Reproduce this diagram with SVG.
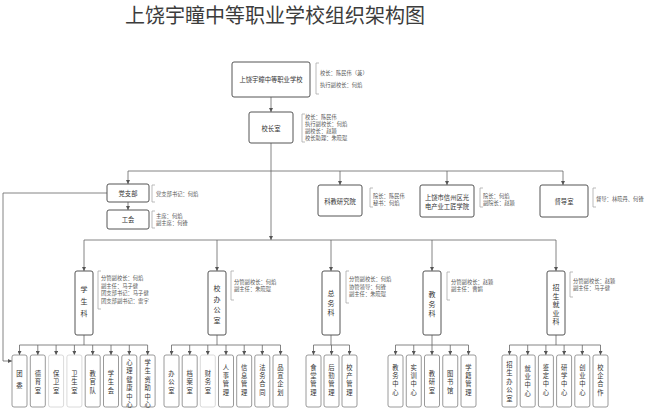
<svg xmlns="http://www.w3.org/2000/svg" width="645" height="409" viewBox="0 0 645 409">
<defs>
<marker id="arr" markerUnits="userSpaceOnUse" markerWidth="4" markerHeight="4" refX="4" refY="2" orient="auto">
<path d="M0,0 L4,2 L0,4 z" fill="#555"/>
</marker>
<style>
text{font-family:"Noto Sans CJK SC","Noto Sans",sans-serif;fill:#333;}
.title{font-size:20px;fill:#3c3c3c;}
.bx{fill:#fff;stroke:#555;stroke-width:1;}
.sb{fill:#fff;stroke:#808080;stroke-width:0.8;}
.lt{fill:#fff;stroke:#d0d0d0;stroke-width:0.8;}
.t{font-size:6.3px;text-anchor:middle;dominant-baseline:central;}
.v{font-size:7px;text-anchor:middle;dominant-baseline:central;}
.s{font-size:6.3px;text-anchor:middle;dominant-baseline:central;}
.a{font-size:5.3px;fill:#555;dominant-baseline:central;}
.br{fill:none;stroke:#aaa;stroke-width:0.8;}
.c{fill:none;stroke:#666;stroke-width:0.8;}
.ca{fill:none;stroke:#666;stroke-width:0.8;marker-end:url(#arr);}
</style>
</defs>
<rect width="645" height="409" fill="#fff"/>
<text class="title" x="125" y="23">上饶宇瞳中等职业学校组织架构图</text>

<g id="connectors">
<path class="ca" d="M271,97 V112"/>
<path class="ca" d="M271,143 V240"/>
<path class="c" d="M128,171 H563"/>
<path class="ca" d="M128,171 V184"/>
<path class="ca" d="M340,171 V185"/>
<path class="ca" d="M447,171 V185"/>
<path class="ca" d="M563,171 V185"/>
<path class="ca" d="M128,202 V210"/>
<path class="ca" d="M107,193 H3 V361 H12"/>
<path class="c" d="M84,240 H556"/>
<path class="ca" d="M84,240 V271"/>
<path class="ca" d="M217,240 V271"/>
<path class="ca" d="M331,240 V271"/>
<path class="ca" d="M432,240 V271"/>
<path class="ca" d="M556,240 V271"/>
<path class="c" d="M84,335 V345 M19.5,345 H147.6"/>
<path class="ca" d="M19.5,345 V355"/><path class="ca" d="M37.8,345 V355"/><path class="ca" d="M56.1,345 V355"/><path class="ca" d="M74.4,345 V355"/><path class="ca" d="M92.7,345 V355"/><path class="ca" d="M111,345 V355"/><path class="ca" d="M129.3,345 V355"/><path class="ca" d="M147.6,345 V355"/>
<path class="c" d="M217,335 V345 M171.5,345 H280.5"/>
<path class="ca" d="M171.5,345 V355"/><path class="ca" d="M189.7,345 V355"/><path class="ca" d="M207.8,345 V355"/><path class="ca" d="M226,345 V355"/><path class="ca" d="M244.2,345 V355"/><path class="ca" d="M262.3,345 V355"/><path class="ca" d="M280.5,345 V355"/>
<path class="c" d="M331,335 V345 M313.5,345 H349.5"/>
<path class="ca" d="M313.5,345 V355"/><path class="ca" d="M331.5,345 V355"/><path class="ca" d="M349.5,345 V355"/>
<path class="c" d="M432,335 V345 M395.5,345 H468.5"/>
<path class="ca" d="M395.5,345 V355"/><path class="ca" d="M413.75,345 V355"/><path class="ca" d="M432,345 V355"/><path class="ca" d="M450.25,345 V355"/><path class="ca" d="M468.5,345 V355"/>
<path class="c" d="M556,335 V345 M509.5,345 H600.5"/>
<path class="ca" d="M509.5,345 V355"/><path class="ca" d="M527.7,345 V355"/><path class="ca" d="M545.9,345 V355"/><path class="ca" d="M564.1,345 V355"/><path class="ca" d="M582.3,345 V355"/><path class="ca" d="M600.5,345 V355"/>
</g>

<g id="school">
<rect class="bx" x="232" y="62" width="78" height="35" rx="2"/>
<text class="t" x="271" y="79.5">上饶宇瞳中等职业学校</text>
<path class="br" d="M319,63 H316 V94 H319"/>
<text class="a" x="320" y="73">校长：陈民伟（兼）</text>
<text class="a" x="320" y="85">执行副校长：何焰</text>
</g>

<g id="principal">
<rect class="bx" x="249" y="112" width="44" height="31" rx="2"/>
<text class="t" x="271" y="128">校长室</text>
<path class="br" d="M305,114 H302 V142 H305"/>
<text class="a" x="305" y="117">校长：陈民伟</text>
<text class="a" x="305" y="124">执行副校长：何焰</text>
<text class="a" x="305" y="131">副校长：赵颖</text>
<text class="a" x="305" y="138">校长助理：朱晓琨</text>
</g>

<g id="party">
<rect class="bx" x="107" y="184" width="42" height="18" rx="2"/>
<text class="t" x="128" y="193">党支部</text>
<path class="br" d="M155,185 H152 V202 H155"/>
<text class="a" x="156" y="194">党支部书记：何焰</text>
</g>

<g id="union">
<rect class="bx" x="107" y="210" width="42" height="19" rx="2"/>
<text class="t" x="128" y="219.5">工会</text>
<path class="br" d="M155,211 H152 V228 H155"/>
<text class="a" x="156" y="216">主席：何焰</text>
<text class="a" x="156" y="223">副主席：何锋</text>
</g>

<g id="research">
<rect class="bx" x="318" y="185" width="44" height="31" rx="2"/>
<text class="t" x="340" y="201">科教研究院</text>
<path class="br" d="M373,188 H370 V207 H373"/>
<text class="a" x="373" y="196">院长：陈民伟</text>
<text class="a" x="373" y="203">秘书：何焰</text>
</g>

<g id="craftsman">
<rect class="bx" x="420" y="185" width="54" height="32" rx="2"/>
<text class="t" x="447" y="197">上饶市信州区光</text>
<text class="t" x="447" y="206">电产业工匠学院</text>
<path class="br" d="M483,188 H480 V207 H483"/>
<text class="a" x="483" y="196">院长：何焰</text>
<text class="a" x="483" y="203">副院长：赵颖</text>
</g>

<g id="supervision">
<rect class="bx" x="540" y="185" width="48" height="32" rx="2"/>
<text class="t" x="564" y="201">督导室</text>
<path class="br" d="M596,188 H593 V207 H596"/>
<text class="a" x="596" y="199">督导：林晓丹、何锋</text>
</g>

<g id="students">
<rect class="bx" x="75" y="271" width="18" height="64" rx="2"/>
<text class="v" x="84"><tspan x="84" y="289">学</tspan><tspan x="84" y="301">生</tspan><tspan x="84" y="313">科</tspan></text>
<path class="br" d="M101,271 H98 V309 H101"/>
<text class="a" x="101" y="278">分管副校长：何焰</text>
<text class="a" x="101" y="285.7">副主任：马子健</text>
<text class="a" x="101" y="293.4">团支部书记：马子健</text>
<text class="a" x="101" y="301">团支部副书记：雷宇</text>
</g>

<g id="office">
<rect class="bx" x="208" y="271" width="18" height="64" rx="2"/>
<text class="v" x="217"><tspan x="217" y="288">校</tspan><tspan x="217" y="298.7">办</tspan><tspan x="217" y="309.3">公</tspan><tspan x="217" y="320">室</tspan></text>
<path class="br" d="M234,271 H231 V300 H234"/>
<text class="a" x="234" y="282">分管副校长：何焰</text>
<text class="a" x="234" y="289">副主任：朱晓琨</text>
</g>

<g id="general">
<rect class="bx" x="322" y="271" width="18" height="64" rx="2"/>
<text class="v" x="331"><tspan x="331" y="293">总</tspan><tspan x="331" y="302.5">务</tspan><tspan x="331" y="312">科</tspan></text>
<path class="br" d="M349,271 H346 V303 H349"/>
<text class="a" x="349" y="279">分管副校长：何焰</text>
<text class="a" x="349" y="286.5">协管领导：何锋</text>
<text class="a" x="349" y="294">副主任：朱晓琨</text>
</g>

<g id="academic">
<rect class="bx" x="423" y="271" width="18" height="64" rx="2"/>
<text class="v" x="432"><tspan x="432" y="294">教</tspan><tspan x="432" y="303.5">务</tspan><tspan x="432" y="313">科</tspan></text>
<path class="br" d="M450,272 H447 V300 H450"/>
<text class="a" x="451" y="282">分管副校长：赵颖</text>
<text class="a" x="451" y="289">副主任：曹娟</text>
</g>

<g id="enrollment">
<rect class="bx" x="547" y="271" width="18" height="64" rx="2"/>
<text class="v" x="556"><tspan x="556" y="287">招</tspan><tspan x="556" y="295.5">生</tspan><tspan x="556" y="304">就</tspan><tspan x="556" y="312.5">业</tspan><tspan x="556" y="321">科</tspan></text>
<path class="br" d="M573,272 H570 V297 H573"/>
<text class="a" x="573" y="281">分管副校长：赵颖</text>
<text class="a" x="573" y="288">副主任：马子健</text>
</g>

<g id="sub-students">
<rect class="sb" x="12" y="355" width="15" height="52" rx="2"/>
<text class="s"><tspan x="19.5" y="373">团</tspan><tspan x="19.5" y="385">委</tspan></text>
<rect class="sb" x="30.3" y="355" width="15" height="52" rx="2"/>
<text class="s"><tspan x="37.8" y="372.7">德</tspan><tspan x="37.8" y="381.3">育</tspan><tspan x="37.8" y="390">室</tspan></text>
<rect class="lt" x="48.6" y="355" width="15" height="52" rx="2"/>
<text class="s"><tspan x="56.1" y="372.7">保</tspan><tspan x="56.1" y="381.3">卫</tspan><tspan x="56.1" y="390">室</tspan></text>
<rect class="lt" x="66.9" y="355" width="15" height="52" rx="2"/>
<text class="s"><tspan x="74.4" y="372.7">卫</tspan><tspan x="74.4" y="381.3">生</tspan><tspan x="74.4" y="390">室</tspan></text>
<rect class="sb" x="85.2" y="355" width="15" height="52" rx="2"/>
<text class="s"><tspan x="92.7" y="372.7">教</tspan><tspan x="92.7" y="381.3">官</tspan><tspan x="92.7" y="390">队</tspan></text>
<rect class="sb" x="103.5" y="355" width="15" height="52" rx="2"/>
<text class="s"><tspan x="111" y="372.7">学</tspan><tspan x="111" y="381.3">生</tspan><tspan x="111" y="390">会</tspan></text>
<rect class="sb" x="121.8" y="355" width="15" height="52" rx="2"/>
<text class="s"><tspan x="129.3" y="361.7">心</tspan><tspan x="129.3" y="370.2">理</tspan><tspan x="129.3" y="378.7">健</tspan><tspan x="129.3" y="387.2">康</tspan><tspan x="129.3" y="395.7">中</tspan><tspan x="129.3" y="404.2">心</tspan></text>
<rect class="sb" x="140.1" y="355" width="15" height="52" rx="2"/>
<text class="s"><tspan x="147.6" y="361.7">学</tspan><tspan x="147.6" y="370.2">生</tspan><tspan x="147.6" y="378.7">资</tspan><tspan x="147.6" y="387.2">助</tspan><tspan x="147.6" y="395.7">中</tspan><tspan x="147.6" y="404.2">心</tspan></text>
</g>

<g id="sub-office">
<rect class="sb" x="164" y="355" width="15" height="52" rx="2"/>
<text class="s"><tspan x="171.5" y="372.7">办</tspan><tspan x="171.5" y="381.3">公</tspan><tspan x="171.5" y="390">室</tspan></text>
<rect class="sb" x="182.2" y="355" width="15" height="52" rx="2"/>
<text class="s"><tspan x="189.7" y="372.7">档</tspan><tspan x="189.7" y="381.3">案</tspan><tspan x="189.7" y="390">室</tspan></text>
<rect class="lt" x="200.3" y="355" width="15" height="52" rx="2"/>
<text class="s"><tspan x="207.8" y="372.7">财</tspan><tspan x="207.8" y="381.3">务</tspan><tspan x="207.8" y="390">室</tspan></text>
<rect class="sb" x="218.5" y="355" width="15" height="52" rx="2"/>
<text class="s"><tspan x="226" y="366.6">人</tspan><tspan x="226" y="375">事</tspan><tspan x="226" y="383.4">管</tspan><tspan x="226" y="391.8">理</tspan></text>
<rect class="sb" x="236.7" y="355" width="15" height="52" rx="2"/>
<text class="s"><tspan x="244.2" y="366.6">信</tspan><tspan x="244.2" y="375">息</tspan><tspan x="244.2" y="383.4">管</tspan><tspan x="244.2" y="391.8">理</tspan></text>
<rect class="sb" x="254.8" y="355" width="15" height="52" rx="2"/>
<text class="s"><tspan x="262.3" y="366.6">法</tspan><tspan x="262.3" y="375">务</tspan><tspan x="262.3" y="383.4">合</tspan><tspan x="262.3" y="391.8">同</tspan></text>
<rect class="sb" x="273" y="355" width="15" height="52" rx="2"/>
<text class="s"><tspan x="280.5" y="366.6">品</tspan><tspan x="280.5" y="375">宣</tspan><tspan x="280.5" y="383.4">企</tspan><tspan x="280.5" y="391.8">划</tspan></text>
</g>

<g id="sub-general">
<rect class="sb" x="306" y="355" width="15" height="52" rx="2"/>
<text class="s"><tspan x="313.5" y="366.6">食</tspan><tspan x="313.5" y="375">堂</tspan><tspan x="313.5" y="383.4">管</tspan><tspan x="313.5" y="391.8">理</tspan></text>
<rect class="sb" x="324" y="355" width="15" height="52" rx="2"/>
<text class="s"><tspan x="331.5" y="366.6">后</tspan><tspan x="331.5" y="375">勤</tspan><tspan x="331.5" y="383.4">管</tspan><tspan x="331.5" y="391.8">理</tspan></text>
<rect class="sb" x="342" y="355" width="15" height="52" rx="2"/>
<text class="s"><tspan x="349.5" y="366.6">校</tspan><tspan x="349.5" y="375">产</tspan><tspan x="349.5" y="383.4">管</tspan><tspan x="349.5" y="391.8">理</tspan></text>
</g>

<g id="sub-academic">
<rect class="sb" x="388" y="355" width="15" height="52" rx="2"/>
<text class="s"><tspan x="395.5" y="366.6">教</tspan><tspan x="395.5" y="375">务</tspan><tspan x="395.5" y="383.4">中</tspan><tspan x="395.5" y="391.8">心</tspan></text>
<rect class="sb" x="406.25" y="355" width="15" height="52" rx="2"/>
<text class="s"><tspan x="413.75" y="366.6">实</tspan><tspan x="413.75" y="375">训</tspan><tspan x="413.75" y="383.4">中</tspan><tspan x="413.75" y="391.8">心</tspan></text>
<rect class="sb" x="424.5" y="355" width="15" height="52" rx="2"/>
<text class="s"><tspan x="432" y="372.7">教</tspan><tspan x="432" y="381.3">研</tspan><tspan x="432" y="390">室</tspan></text>
<rect class="sb" x="442.75" y="355" width="15" height="52" rx="2"/>
<text class="s"><tspan x="450.25" y="372.7">图</tspan><tspan x="450.25" y="381.3">书</tspan><tspan x="450.25" y="390">馆</tspan></text>
<rect class="sb" x="461" y="355" width="15" height="52" rx="2"/>
<text class="s"><tspan x="468.5" y="366.6">学</tspan><tspan x="468.5" y="375">籍</tspan><tspan x="468.5" y="383.4">管</tspan><tspan x="468.5" y="391.8">理</tspan></text>
</g>

<g id="sub-enrollment">
<rect class="sb" x="502" y="355" width="15" height="52" rx="2"/>
<text class="s"><tspan x="509.5" y="364">招</tspan><tspan x="509.5" y="372.4">生</tspan><tspan x="509.5" y="380.8">办</tspan><tspan x="509.5" y="389.2">公</tspan><tspan x="509.5" y="397.6">室</tspan></text>
<rect class="sb" x="520.2" y="355" width="15" height="52" rx="2"/>
<text class="s"><tspan x="527.7" y="367.6">就</tspan><tspan x="527.7" y="376">业</tspan><tspan x="527.7" y="384.4">中</tspan><tspan x="527.7" y="392.8">心</tspan></text>
<rect class="sb" x="538.4" y="355" width="15" height="52" rx="2"/>
<text class="s"><tspan x="545.9" y="366.6">鉴</tspan><tspan x="545.9" y="375">定</tspan><tspan x="545.9" y="383.4">中</tspan><tspan x="545.9" y="391.8">心</tspan></text>
<rect class="sb" x="556.6" y="355" width="15" height="52" rx="2"/>
<text class="s"><tspan x="564.1" y="366.6">研</tspan><tspan x="564.1" y="375">学</tspan><tspan x="564.1" y="383.4">中</tspan><tspan x="564.1" y="391.8">心</tspan></text>
<rect class="sb" x="574.8" y="355" width="15" height="52" rx="2"/>
<text class="s"><tspan x="582.3" y="366.6">创</tspan><tspan x="582.3" y="375">业</tspan><tspan x="582.3" y="383.4">中</tspan><tspan x="582.3" y="391.8">心</tspan></text>
<rect class="sb" x="593" y="355" width="15" height="52" rx="2"/>
<text class="s"><tspan x="600.5" y="366.6">校</tspan><tspan x="600.5" y="375">企</tspan><tspan x="600.5" y="383.4">合</tspan><tspan x="600.5" y="391.8">作</tspan></text>
</g>
</svg>
